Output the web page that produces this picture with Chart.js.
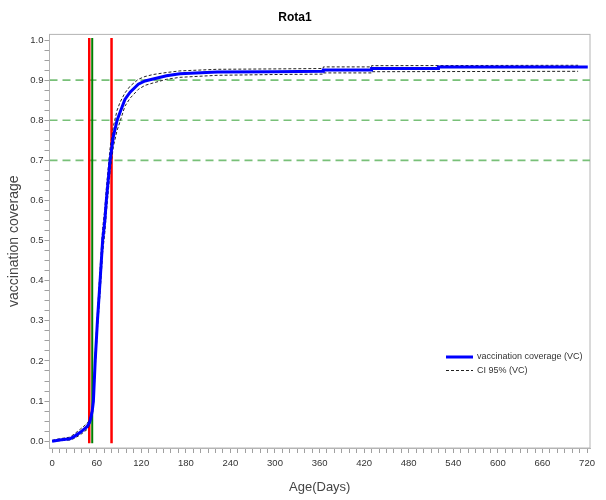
<!DOCTYPE html>
<html>
<head>
<meta charset="utf-8">
<title>Rota1</title>
<script src="https://cdn.jsdelivr.net/npm/chart.js@4.4.0/dist/chart.umd.min.js"></script>
<style>
  html, body { margin: 0; padding: 0; background: #fff; }
</style>
</head>
<body>
<canvas id="rotaChart" width="606" height="500"></canvas>
<script>
// coverage curve (days, coverage)
const covDays = [0, 10, 24, 30, 38, 47, 50, 52, 54, 55.6, 58, 61, 64.6, 68, 71, 73, 78, 82.5, 87.5, 91.5, 98, 105, 116, 125, 136, 154, 172, 222, 300, 365, 365, 430, 430, 520, 520, 721];
const covValues = [0, 0.003, 0.006, 0.012, 0.022, 0.036, 0.045, 0.057, 0.075, 0.10, 0.2, 0.3, 0.4, 0.5, 0.55, 0.6, 0.7, 0.76, 0.8, 0.82, 0.852, 0.87, 0.89, 0.898, 0.903, 0.911, 0.916, 0.92, 0.921, 0.922, 0.925, 0.925, 0.929, 0.929, 0.933, 0.933];

// 95% confidence band
const ciDays = [0, 10, 24, 30, 38, 47, 50, 52, 54, 55.6, 58, 61, 64.6, 68, 71, 73, 78, 82.5, 87.5, 91.5, 98, 105, 116, 125, 136, 154, 172, 222, 300, 365, 365, 430, 430, 708];
const ciUpper = [0.002, 0.006, 0.01, 0.018, 0.03, 0.044, 0.052, 0.065, 0.085, 0.115, 0.22, 0.32, 0.43, 0.53, 0.58, 0.63, 0.73, 0.785, 0.825, 0.845, 0.868, 0.885, 0.902, 0.909, 0.914, 0.919, 0.923, 0.927, 0.928, 0.929, 0.933, 0.933, 0.936, 0.937];
const ciLower = [0, 0.001, 0.003, 0.007, 0.016, 0.029, 0.038, 0.05, 0.066, 0.088, 0.18, 0.28, 0.37, 0.47, 0.52, 0.57, 0.67, 0.735, 0.775, 0.797, 0.835, 0.855, 0.877, 0.887, 0.893, 0.902, 0.907, 0.912, 0.914, 0.915, 0.918, 0.918, 0.921, 0.922];

// reference lines
const refLevels = [0.7, 0.8, 0.9];
const markerDays = [50, 54, 80];
const markerColors = ['#ff0000', '#008000', '#ff0000'];

// axes
const xTickLabels = [0, 60, 120, 180, 240, 300, 360, 420, 480, 540, 600, 660, 720];
const yTickLabels = [0.0, 0.1, 0.2, 0.3, 0.4, 0.5, 0.6, 0.7, 0.8, 0.9, 1.0];
const xMin = -3.5, xMax = 724;
const yMin = -0.017, yMax = 1.014;
const markerBottom = -0.005, markerTop = 1.005;

const toPoints = (xs, ys) => xs.map((x, i) => ({ x: x, y: ys[i] }));

const xMinor = [];
for (let v = 0; v <= 720; v += 10) xMinor.push(v);
const yMinor = [];
for (let i = 0; i <= 40; i++) yMinor.push(Math.round(i * 25) / 1000);

const datasets = [
  {
    label: 'vaccination coverage (VC)',
    data: toPoints(covDays, covValues),
    borderColor: '#0000ff',
    borderWidth: 3,
    pointRadius: 0,
    tension: 0
  },
  {
    label: 'CI 95% (VC)',
    data: toPoints(ciDays, ciUpper),
    borderColor: '#222',
    borderWidth: 1,
    borderDash: [3, 2],
    pointRadius: 0
  },
  {
    label: 'CI lower',
    data: toPoints(ciDays, ciLower),
    borderColor: '#222',
    borderWidth: 1,
    borderDash: [3, 2],
    pointRadius: 0
  }
];

markerDays.forEach((d, i) => {
  datasets.push({
    label: 'marker ' + d,
    data: [{ x: d, y: markerBottom }, { x: d, y: markerTop }],
    borderColor: markerColors[i],
    borderWidth: markerColors[i] === '#008000' ? 2 : 2.5,
    pointRadius: 0
  });
});

refLevels.forEach(lvl => {
  datasets.push({
    label: 'level ' + lvl,
    data: [{ x: xMin, y: lvl }, { x: xMax, y: lvl }],
    borderColor: '#78c078',
    borderWidth: 1.7,
    borderDash: [8, 5],
    pointRadius: 0
  });
});

// grey frame round the plot
const plotFrame = {
  id: 'plotFrame',
  beforeDatasetsDraw(chart) {
    const { ctx, chartArea: a } = chart;
    ctx.save();
    ctx.strokeStyle = '#b4b4b4';
    ctx.lineWidth = 1;
    ctx.strokeRect(a.left, a.top, a.right - a.left, a.bottom - a.top);
    ctx.restore();
  }
};

// legend inside the plot, bottom right
const insideLegend = {
  id: 'insideLegend',
  afterDraw(chart) {
    const { ctx, chartArea: a } = chart;
    const x0 = a.right - 144;
    const y0 = a.bottom - 91;
    ctx.save();
    ctx.font = '9px "Liberation Sans", Arial, sans-serif';
    ctx.fillStyle = '#333';
    ctx.textBaseline = 'middle';

    ctx.strokeStyle = '#0000ff';
    ctx.lineWidth = 3;
    ctx.beginPath();
    ctx.moveTo(x0, y0);
    ctx.lineTo(x0 + 27, y0);
    ctx.stroke();
    ctx.fillText(datasets[0].label, x0 + 31, y0);

    ctx.strokeStyle = '#222';
    ctx.lineWidth = 1;
    ctx.setLineDash([3, 2]);
    ctx.beginPath();
    ctx.moveTo(x0, y0 + 13.5);
    ctx.lineTo(x0 + 27, y0 + 13.5);
    ctx.stroke();
    ctx.fillText(datasets[1].label, x0 + 31, y0 + 13.5);
    ctx.restore();
  }
};

const ctx = document.getElementById('rotaChart').getContext('2d');
new Chart(ctx, {
  type: 'line',
  data: { datasets: datasets },
  options: {
    responsive: false,
    animation: false,
    layout: { padding: { left: 0, right: 16, top: 0, bottom: 0 } },
    plugins: {
      legend: { display: false },
      tooltip: { enabled: false },
      title: {
        display: true,
        text: 'Rota1',
        color: '#000',
        font: { family: '"Liberation Sans", Arial, sans-serif', size: 12, weight: 'bold' },
        padding: { top: 10, bottom: 10 }
      }
    },
    scales: {
      x: {
        type: 'linear',
        min: xMin,
        max: xMax,
        afterBuildTicks: (scale) => { scale.ticks = xMinor.map(v => ({ value: v })); },
        afterFit: (scale) => { scale.height = 52; },
        ticks: {
          autoSkip: false,
          maxRotation: 0,
          padding: 5,
          color: '#333',
          font: { family: '"Liberation Sans", Arial, sans-serif', size: 9.5 },
          callback: (value) => xTickLabels.includes(value) ? String(value) : ''
        },
        grid: { drawOnChartArea: false, drawTicks: true, tickLength: 5, color: '#a0a0a0' },
        border: { display: true, color: '#b4b4b4' },
        title: {
          display: true,
          text: 'Age(Days)',
          color: '#444',
          font: { family: '"Liberation Sans", Arial, sans-serif', size: 13 },
          padding: { top: 0, bottom: 5 }
        }
      },
      y: {
        type: 'linear',
        min: yMin,
        max: yMax,
        afterBuildTicks: (scale) => { scale.ticks = yMinor.map(v => ({ value: v })); },
        afterFit: (scale) => { scale.width = 49.5; },
        ticks: {
          autoSkip: false,
          padding: 1,
          color: '#333',
          font: { family: '"Liberation Sans", Arial, sans-serif', size: 9.5 },
          callback: (value) => {
            const major = yTickLabels.find(t => Math.abs(t - value) < 1e-6);
            return major !== undefined ? major.toFixed(1) : '';
          }
        },
        grid: { drawOnChartArea: false, drawTicks: true, tickLength: 5, color: '#a0a0a0' },
        border: { display: true, color: '#b4b4b4' },
        title: {
          display: true,
          text: 'vaccination coverage',
          color: '#444',
          font: { family: '"Liberation Sans", Arial, sans-serif', size: 14 },
          padding: { top: 6, bottom: 0 }
        }
      }
    }
  },
  plugins: [plotFrame, insideLegend]
});
</script>
</body>
</html>
